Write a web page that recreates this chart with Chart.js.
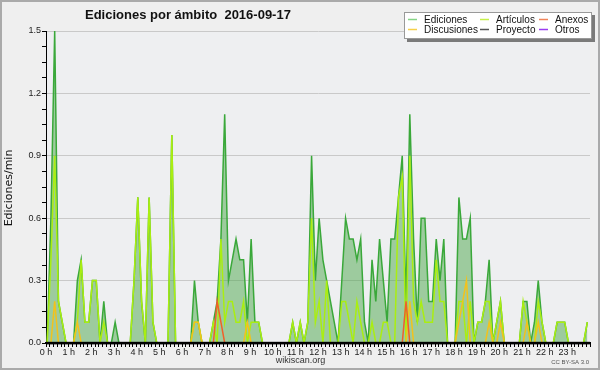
<!DOCTYPE html>
<html>
<head>
<meta charset="utf-8">
<script src="https://cdn.jsdelivr.net/npm/chart.js@4.4.1/dist/chart.umd.min.js"></script>
<style>
  html, body { margin: 0; padding: 0; background: #efefef; }
</style>
</head>
<body>
<canvas id="grafica" width="600" height="370"></canvas>
<script>
Chart.defaults.font.family = "'Liberation Sans', Arial, sans-serif";
Chart.defaults.font.size = 9;
Chart.defaults.color = "#222";

/* ===== datos: ediciones por minuto, cada 10 min ===== */

const horas = ["0 h", "1 h", "2 h", "3 h", "4 h", "5 h", "6 h", "7 h", "8 h", "9 h", "10 h", "11 h",
  "12 h", "13 h", "14 h", "15 h", "16 h", "17 h", "18 h", "19 h", "20 h", "21 h", "22 h", "23 h"];

const marcasY = [0, 0.3, 0.6, 0.9, 1.2, 1.5];

const ediciones = [
  0, 0.6, 1.5, 0.2, 0.1, 0, 0, 0, 0.3, 0.4, 0.1, 0.1,
  0.3, 0.3, 0, 0.2, 0, 0, 0.1, 0, 0, 0, 0, 0.3,
  0.7, 0.2, 0, 0.7, 0.1, 0, 0, 0, 0, 1.0, 0, 0,
  0, 0, 0, 0.3, 0.1, 0, 0, 0, 0.1, 0.2, 0.5, 1.1,
  0.3, 0.4, 0.5, 0.4, 0.4, 0.1, 0.5, 0.1, 0.1, 0, 0, 0,
  0, 0, 0, 0, 0, 0.1, 0, 0.1, 0, 0.1, 0.9, 0.3,
  0.6, 0.4, 0.3, 0.2, 0.1, 0, 0.3, 0.6, 0.5, 0.5, 0.4, 0.5,
  0.1, 0, 0.4, 0.2, 0.5, 0.3, 0.1, 0.5, 0.5, 0.7, 0.9, 0.2,
  1.1, 0.5, 0.1, 0.6, 0.6, 0.2, 0.2, 0.5, 0.3, 0.5, 0, 0,
  0, 0.7, 0.5, 0.5, 0.6, 0, 0.1, 0.1, 0.2, 0.4, 0, 0.1,
  0.2, 0, 0, 0, 0, 0, 0.2, 0.2, 0, 0.1, 0.3, 0.1,
  0, 0, 0, 0.1, 0.1, 0.1, 0, 0, 0, 0, 0, 0.1
];

const articulos = [
  0, 0.4, 0.9, 0.2, 0.1, 0, 0, 0, 0.1, 0.4, 0.1, 0.1,
  0.3, 0.3, 0, 0.1, 0, 0, 0, 0, 0, 0, 0, 0.3,
  0.7, 0.2, 0, 0.7, 0.1, 0, 0, 0, 0, 1.0, 0, 0,
  0, 0, 0, 0.1, 0.1, 0, 0, 0, 0.1, 0, 0.5, 0.1,
  0.2, 0.2, 0.1, 0.1, 0.2, 0, 0.1, 0.1, 0.1, 0, 0, 0,
  0, 0, 0, 0, 0, 0.1, 0, 0.1, 0, 0.1, 0.6, 0.1,
  0.2, 0, 0.3, 0, 0, 0, 0.2, 0.2, 0.1, 0, 0.2, 0.1,
  0, 0, 0.1, 0, 0, 0.1, 0.1, 0, 0, 0.7, 0.8, 0,
  0.9, 0.2, 0.1, 0.2, 0.1, 0.1, 0.1, 0.4, 0.2, 0.2, 0, 0,
  0, 0.2, 0.2, 0, 0.2, 0, 0.1, 0.1, 0.2, 0.2, 0, 0.1,
  0.2, 0, 0, 0, 0, 0, 0.2, 0.1, 0, 0, 0.2, 0.1,
  0, 0, 0, 0.1, 0.1, 0.1, 0, 0, 0, 0, 0, 0.1
];

const discusiones = [
  0, 0, 0.2, 0, 0, 0, 0, 0, 0.1, 0, 0, 0,
  0, 0, 0, 0, 0, 0, 0, 0, 0, 0, 0, 0,
  0, 0, 0, 0, 0, 0, 0, 0, 0, 0, 0, 0,
  0, 0, 0, 0.1, 0.1, 0, 0, 0, 0, 0, 0, 0,
  0, 0, 0, 0, 0, 0.1, 0, 0, 0, 0, 0, 0,
  0, 0, 0, 0, 0, 0, 0, 0, 0, 0, 0, 0,
  0, 0, 0, 0, 0, 0, 0, 0, 0, 0, 0, 0,
  0, 0, 0, 0, 0, 0, 0, 0, 0, 0, 0, 0,
  0.2, 0, 0, 0, 0, 0, 0, 0, 0, 0, 0, 0,
  0, 0.1, 0.2, 0.3, 0, 0, 0, 0, 0, 0.1, 0, 0,
  0.1, 0, 0, 0, 0, 0, 0, 0.1, 0, 0, 0.1, 0,
  0, 0, 0, 0, 0, 0, 0, 0, 0, 0, 0, 0
];

const anexos = [
  0, 0, 0, 0, 0, 0, 0, 0, 0, 0, 0, 0,
  0, 0, 0, 0, 0, 0, 0, 0, 0, 0, 0, 0,
  0, 0, 0, 0, 0, 0, 0, 0, 0, 0, 0, 0,
  0, 0, 0, 0, 0, 0, 0, 0, 0, 0.2, 0.1, 0,
  0, 0, 0, 0, 0, 0, 0, 0, 0, 0, 0, 0,
  0, 0, 0, 0, 0, 0, 0, 0, 0, 0, 0, 0,
  0, 0, 0, 0, 0, 0, 0, 0, 0, 0, 0, 0,
  0, 0, 0, 0, 0, 0, 0, 0, 0, 0, 0, 0.2,
  0, 0, 0, 0, 0, 0, 0, 0, 0, 0, 0, 0,
  0, 0, 0, 0, 0, 0, 0, 0, 0, 0, 0, 0,
  0, 0, 0, 0, 0, 0, 0, 0, 0, 0, 0, 0,
  0, 0, 0, 0, 0, 0, 0, 0, 0, 0, 0, 0
];

// sin actividad ese día
const proyecto = [];
const otros = [];

/* ===== utilidades ===== */

const puntos = serie => serie.map((v, i) => ({ x: i + 0.3, y: v }));

const esMayor = v => Math.abs(v / 0.3 - Math.round(v / 0.3)) < 1e-6;

// marcas menores: 4 por cada división de 0.3, una cada 10 min en x
const ticksY = [];
for (let k = 0; k < marcasY.length - 1; k++) {
  for (let j = 0; j < 4; j++) ticksY.push(marcasY[k] + j * 0.075);
}
ticksY.push(marcasY[marcasY.length - 1]);
const ticksX = [];
for (let k = 0; k <= horas.length * 6; k++) ticksX.push(k);

/* ===== decorado: fondo, título, leyenda, pie ===== */

const decorado = {
  id: "decorado",
  beforeDraw(chart) {
    const { ctx, chartArea: a } = chart;
    ctx.save();
    ctx.fillStyle = "#efefef";
    ctx.fillRect(0, 0, chart.width, chart.height);
    ctx.fillStyle = "#eeeff1";
    ctx.fillRect(a.left, a.top, a.right - a.left, a.bottom - a.top);
    ctx.restore();
  },
  afterDatasetsDraw(chart) {
    // el eje x tapa los tramos en cero de cada serie
    const { ctx, chartArea: a } = chart;
    ctx.save();
    ctx.fillStyle = "#000";
    ctx.fillRect(a.left, a.bottom - 1.2, a.right - a.left, 2.6);
    ctx.restore();
  },
  afterDraw(chart) {
    const { ctx } = chart;
    ctx.save();

    // título
    ctx.fillStyle = "#111";
    ctx.font = "bold 13px 'Liberation Sans', Arial, sans-serif";
    ctx.textAlign = "left";
    ctx.textBaseline = "alphabetic";
    ctx.fillText("Ediciones por ámbito  2016-09-17", 85, 18.5);

    // título del eje y
    ctx.save();
    ctx.translate(9, 188);
    ctx.rotate(-Math.PI / 2);
    ctx.font = "11px 'DejaVu Sans', sans-serif";
    ctx.textAlign = "center";
    ctx.textBaseline = "middle";
    ctx.fillStyle = "#111";
    ctx.fillText("Ediciones/min", 0, 0);
    ctx.restore();

    // pie
    ctx.font = "9px 'Liberation Sans', Arial, sans-serif";
    ctx.textAlign = "center";
    ctx.textBaseline = "middle";
    ctx.fillStyle = "#333";
    ctx.fillText("wikiscan.org", 300.5, 361);
    ctx.font = "6px 'Liberation Sans', Arial, sans-serif";
    ctx.textAlign = "right";
    ctx.fillStyle = "#555";
    ctx.fillText("CC BY-SA 3.0", 589, 362);

    // leyenda
    ctx.fillStyle = "#7a7a7a";
    ctx.fillRect(407, 15, 188, 27);
    ctx.fillStyle = "#ffffff";
    ctx.fillRect(404, 12, 188, 27);
    ctx.strokeStyle = "#999";
    ctx.lineWidth = 1;
    ctx.strokeRect(404.5, 12.5, 187, 26);

    const columnas = [408, 480, 539];
    const filas = [19, 29];
    ctx.font = "10px 'Liberation Sans', Arial, sans-serif";
    ctx.textAlign = "left";
    ctx.textBaseline = "alphabetic";
    chart.data.datasets.forEach((d, i) => {
      const x = columnas[i % 3];
      const y = filas[Math.floor(i / 3)];
      ctx.strokeStyle = d.colorLeyenda;
      ctx.lineWidth = 1.5;
      ctx.beginPath();
      ctx.moveTo(x, y + 0.5);
      ctx.lineTo(x + 9, y + 0.5);
      ctx.stroke();
      ctx.fillStyle = "#111";
      ctx.fillText(d.label, x + 16, y + 3.5);
    });

    // marco
    ctx.strokeStyle = "#aaaaaa";
    ctx.lineWidth = 2;
    ctx.strokeRect(1, 1, chart.width - 2, chart.height - 2);
    ctx.restore();
  }
};

/* ===== gráfica ===== */

const grafica = new Chart(document.getElementById("grafica"), {
  type: "line",
  data: {
    datasets: [
      {
        label: "Ediciones",
        data: puntos(ediciones),
        borderColor: "#3aa83a",
        backgroundColor: "rgba(76,168,76,0.5)",
        colorLeyenda: "#86d486",
        fill: "origin",
        order: 4
      },
      {
        label: "Artículos",
        data: puntos(articulos),
        borderColor: "#aaee11",
        colorLeyenda: "#c6f04a",
        fill: false,
        order: 3
      },
      {
        label: "Anexos",
        data: puntos(anexos),
        borderColor: "#f0602a",
        colorLeyenda: "#f0845a",
        fill: false,
        order: 1
      },
      {
        label: "Discusiones",
        data: puntos(discusiones),
        borderColor: "#f2c21c",
        colorLeyenda: "#f6d04a",
        fill: false,
        order: 2
      },
      {
        label: "Proyecto",
        data: puntos(proyecto),
        borderColor: "#555555",
        colorLeyenda: "#555555",
        fill: false,
        order: 0
      },
      {
        label: "Otros",
        data: puntos(otros),
        borderColor: "#9a3cf0",
        colorLeyenda: "#9a3cf0",
        fill: false,
        order: 0
      }
    ]
  },
  options: {
    responsive: false,
    animation: false,
    layout: { padding: { top: 31, right: 10, left: 0, bottom: 0 } },
    elements: {
      point: { radius: 0 },
      line: { tension: 0, borderWidth: 1.5 }
    },
    plugins: {
      legend: { display: false },
      title: { display: false },
      tooltip: { enabled: false }
    },
    scales: {
      x: {
        type: "linear",
        min: 0,
        max: 144,
        z: 1,
        afterFit: s => { s.height = 27; },
        afterBuildTicks: s => { s.ticks = ticksX.map(v => ({ value: v })); },
        grid: { drawOnChartArea: false, tickLength: 4, tickColor: "#000", tickWidth: 1 },
        border: { color: "#000", width: 2 },
        ticks: {
          autoSkip: false,
          maxRotation: 0,
          padding: 0,
          color: "#222",
          callback: v => (v % 6 === 0 && v < 144 ? horas[v / 6] : "")
        }
      },
      y: {
        min: 0,
        max: 1.5,
        afterFit: s => { s.width = 46; },
        afterBuildTicks: s => { s.ticks = ticksY.map(v => ({ value: v })); },
        grid: {
          color: c => (c.tick && esMayor(c.tick.value) ? "#c9c9c9" : "rgba(0,0,0,0)"),
          tickColor: "#000",
          tickLength: 4,
          lineWidth: 1
        },
        border: { color: "#000", width: 1 },
        ticks: {
          padding: 1,
          color: "#222",
          callback: v => (esMayor(v) ? v.toFixed(1) : "")
        }
      }
    }
  },
  plugins: [decorado]
});
</script>
</body>
</html>
